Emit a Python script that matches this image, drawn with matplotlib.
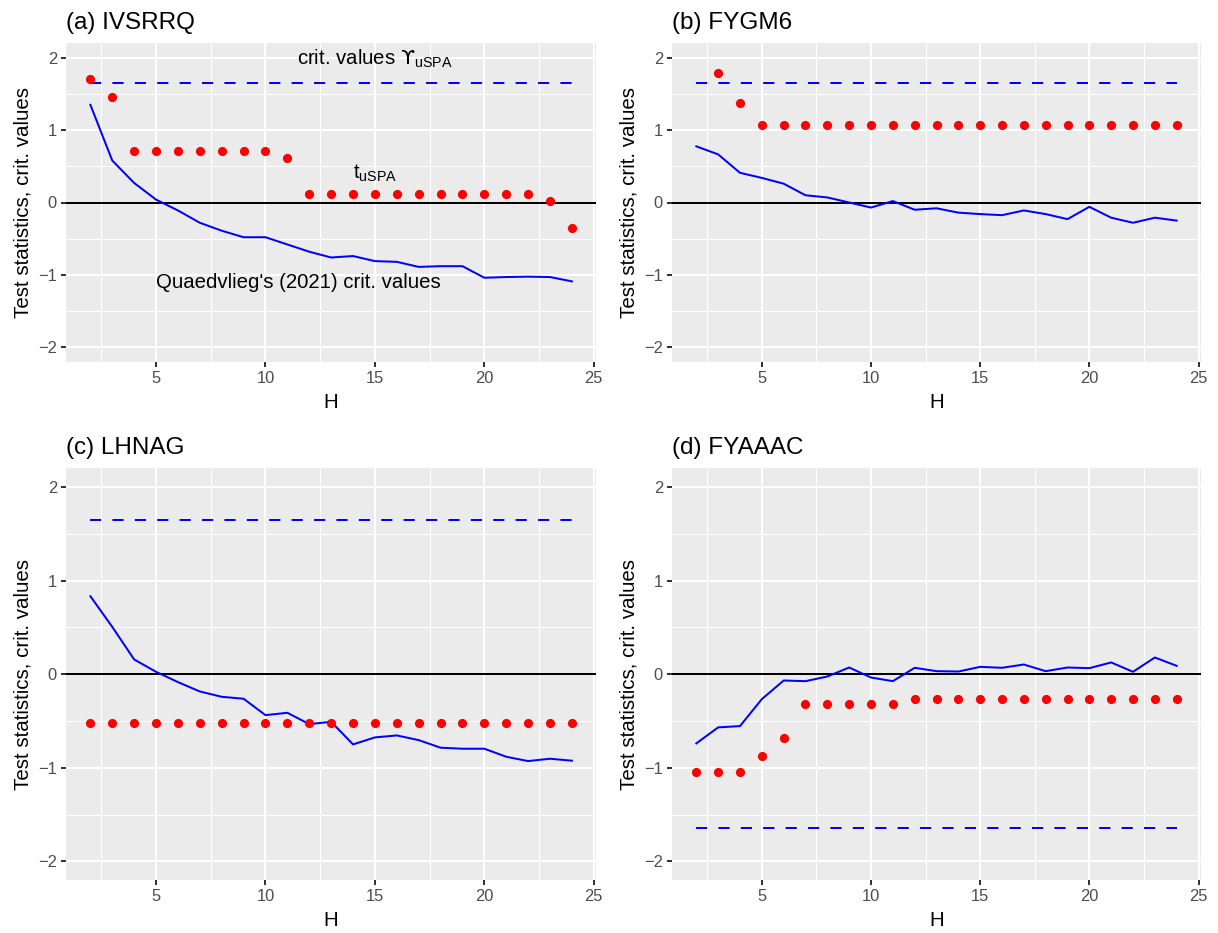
import numpy as np
import matplotlib
matplotlib.use("Agg")
import matplotlib.pyplot as plt
from matplotlib.ticker import MultipleLocator

plt.rcParams['font.family'] = ['Liberation Sans', 'DejaVu Sans']
plt.rcParams['mathtext.fontset'] = 'custom'
plt.rcParams['mathtext.rm'] = 'Liberation Sans'
plt.rcParams['mathtext.it'] = 'Liberation Sans:italic'
plt.rcParams['mathtext.bf'] = 'Liberation Sans:bold'
plt.rcParams['mathtext.sf'] = 'DejaVu Sans'

# horizons
h = np.arange(2, 25)

# (a) IVSRRQ
a_t = [1.70, 1.46, 0.71, 0.71, 0.71, 0.71, 0.71, 0.71, 0.71, 0.61,
       0.12, 0.12, 0.12, 0.12, 0.12, 0.12, 0.12, 0.12, 0.12, 0.12, 0.12,
       0.014, -0.355]
a_q = [1.35, 0.58, 0.27, 0.04, -0.11, -0.28, -0.39, -0.48, -0.48, -0.58,
       -0.68, -0.76, -0.74, -0.81, -0.82, -0.89, -0.88, -0.88, -1.04,
       -1.03, -1.025, -1.03, -1.09]

# (b) FYGM6  (H=2 lies above the plotted range)
b_t = [np.nan, 1.79, 1.37] + [1.07] * 20
b_q = [0.776, 0.665, 0.41, 0.34, 0.26, 0.10, 0.07, 0.0, -0.07, 0.02,
       -0.10, -0.08, -0.14, -0.16, -0.175, -0.11, -0.16, -0.23, -0.06,
       -0.21, -0.28, -0.21, -0.25]

# (c) LHNAG
c_t = [-0.525] * 23
c_q = [0.833, 0.505, 0.157, 0.025, -0.085, -0.185, -0.242, -0.263, -0.438,
       -0.413, -0.534, -0.509, -0.751, -0.676, -0.655, -0.705, -0.786,
       -0.797, -0.797, -0.883, -0.929, -0.904, -0.925]

# (d) FYAAAC
d_t = [-1.043, -1.043, -1.043, -0.875, -0.68] + [-0.317] * 5 + [-0.263] * 13
d_q = [-0.74, -0.569, -0.555, -0.267, -0.068, -0.075, -0.025, 0.071, -0.036,
       -0.075, 0.068, 0.032, 0.028, 0.078, 0.068, 0.103, 0.032, 0.071, 0.064,
       0.125, 0.025, 0.178, 0.089]

titles = ["(a) IVSRRQ", "(b) FYGM6", "(c) LHNAG", "(d) FYAAAC"]
crit = [1.645, 1.645, 1.645, -1.645]
tstats = [a_t, b_t, c_t, d_t]
quaed = [a_q, b_q, c_q, d_q]

W, Hpx = 1218, 933
fig = plt.figure(figsize=(W / 100, Hpx / 100), dpi=100)


def rect(l, r, t, b):
    return [l / W, 1 - b / Hpx, (r - l) / W, (b - t) / Hpx]


boxes = [rect(66.3, 596, 43.3, 361.7), rect(672.3, 1200.7, 43.3, 361.7),
         rect(66.3, 596, 468.3, 880), rect(672.3, 1200.7, 468.3, 880)]

lw = 1.44
for i in range(4):
    ax = fig.add_axes(boxes[i])
    ax.set_facecolor('#EBEBEB')
    for s in ax.spines.values():
        s.set_visible(False)
    ax.set_xlim(0.9, 25.1)
    ax.set_ylim(-2.2, 2.2)
    ax.xaxis.set_major_locator(MultipleLocator(5))
    ax.xaxis.set_minor_locator(MultipleLocator(2.5))
    ax.yaxis.set_major_locator(MultipleLocator(1))
    ax.yaxis.set_minor_locator(MultipleLocator(0.5))
    ax.grid(which='major', color='white', lw=lw)
    ax.grid(which='minor', color='white', lw=lw / 2)
    ax.set_axisbelow(True)
    ax.tick_params(which='major', length=3.7, width=lw, color='#333333',
                   labelcolor='#4D4D4D', labelsize=11.9, pad=3)
    ax.tick_params(which='minor', length=0)

    ax.axhline(0, color='black', lw=lw)
    ax.plot(h, [crit[i]] * len(h), color='blue', lw=lw, dashes=(5.6, 5.6))
    ax.plot(h, quaed[i], color='blue', lw=lw)
    ax.plot(h, tstats[i], 'o', color='red', ms=6.6, mec='none')

    ax.set_xlabel("H", fontsize=14.8, labelpad=5)
    ax.set_ylabel("Test statistics, crit. values", fontsize=14.8, labelpad=4)
    ax.set_title(titles[i], loc='left', fontsize=17.5, pad=10.5)

    if i == 0:
        ax.text(15, 1.98, "crit. values $\\mathsf{ϒ}_{\\mathrm{uSPA}}$",
                ha='center', va='center', fontsize=14.7)
        ax.text(15, 0.4, "t$_{\\mathrm{uSPA}}$", ha='center', va='center',
                fontsize=14.7)
        ax.text(11.5, -1.1, "Quaedvlieg's (2021) crit. values", ha='center',
                va='center', fontsize=14.7)

fig.savefig("out.png", dpi=100)
